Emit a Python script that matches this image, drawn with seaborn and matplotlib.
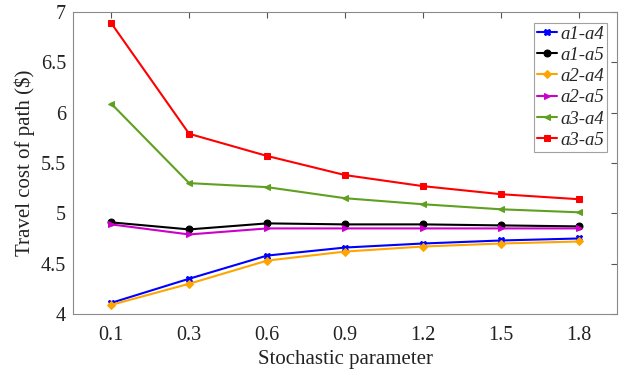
import numpy as np
import pandas as pd
import matplotlib
matplotlib.use("Agg")
import matplotlib.pyplot as plt
import seaborn as sns

categories = ["0.1", "0.3", "0.6", "0.9", "1.2", "1.5", "1.8"]
series_names = ["a1-a4", "a1-a5", "a2-a4", "a2-a5", "a3-a4", "a3-a5"]
a1_a4 = [4.11, 4.35, 4.58, 4.66, 4.70, 4.73, 4.75]
a1_a5 = [4.91, 4.84, 4.90, 4.89, 4.89, 4.88, 4.87]
a2_a4 = [4.09, 4.30, 4.53, 4.62, 4.67, 4.70, 4.72]
a2_a5 = [4.89, 4.79, 4.85, 4.85, 4.85, 4.85, 4.85]
a3_a4 = [6.09, 5.30, 5.26, 5.15, 5.09, 5.04, 5.01]
a3_a5 = [6.89, 5.79, 5.57, 5.38, 5.27, 5.19, 5.14]
yticks = [4, 4.5, 5, 5.5, 6, 6.5, 7]

colors = ["#0000ff", "#000000", "#ffa500", "#cc00cc", "#5fa020", "#ff0000"]
markers = ["X", "o", "D", ">", "<", "s"]
msizes = [5, 5, 4, 5, 5, 4.5]

sns.set_theme(style="white")
plt.rcParams['font.family'] = ['Liberation Serif', 'DejaVu Serif']

rows = []
for name, vals in zip(series_names, [a1_a4, a1_a5, a2_a4, a2_a5, a3_a4, a3_a5]):
    for i, (c, v) in enumerate(zip(categories, vals)):
        rows.append({"pos": i, "param": c, "value": v, "series": name})
df = pd.DataFrame(rows)

fig = plt.figure(figsize=(6.22, 3.76), dpi=100)
ax = fig.add_axes([0.1174, 0.165, 0.8746, 0.803])

for name, col, mk, ms in zip(series_names, colors, markers, msizes):
    sub = df[df["series"] == name]
    sns.lineplot(data=sub, x="pos", y="value", ax=ax, color=col, marker=mk,
                 markersize=ms, markeredgecolor=col, linewidth=1.5,
                 label=name, legend=False)

ax.set_xlim(-0.49, 6.49)
ax.set_ylim(4, 7)
ax.set_xticks(range(len(categories)))
ax.set_xticklabels(categories)
ax.set_yticks(yticks)
ax.set_yticklabels([f"{t:g}" for t in yticks])
ax.tick_params(direction="in", length=4, width=0.8, colors="#555555",
               labelsize=14.5, top=True, right=True, labelcolor="#222222")
ax.tick_params(axis="x", pad=9)
ax.tick_params(axis="y", pad=5)
for s in ax.spines.values():
    s.set_color("#8a8a8a")
    s.set_linewidth(0.8)
ax.set_xlabel("Stochastic parameter", fontsize=15, color="#222222", labelpad=3)
ax.set_ylabel("Travel cost of path ($)", fontsize=15, color="#222222")

handles, labels = ax.get_legend_handles_labels()
leg = ax.legend(handles, labels, loc="upper right", bbox_to_anchor=(0.982, 0.965),
                prop={"family": "Liberation Serif", "style": "italic", "size": 13.5},
                frameon=True, fancybox=False, edgecolor="#8a8a8a",
                handlelength=1.05, handletextpad=0.2, borderpad=0.15,
                labelspacing=0.22, borderaxespad=0.0)
leg.get_frame().set_linewidth(0.8)

fig.savefig("out.png", dpi=100)
